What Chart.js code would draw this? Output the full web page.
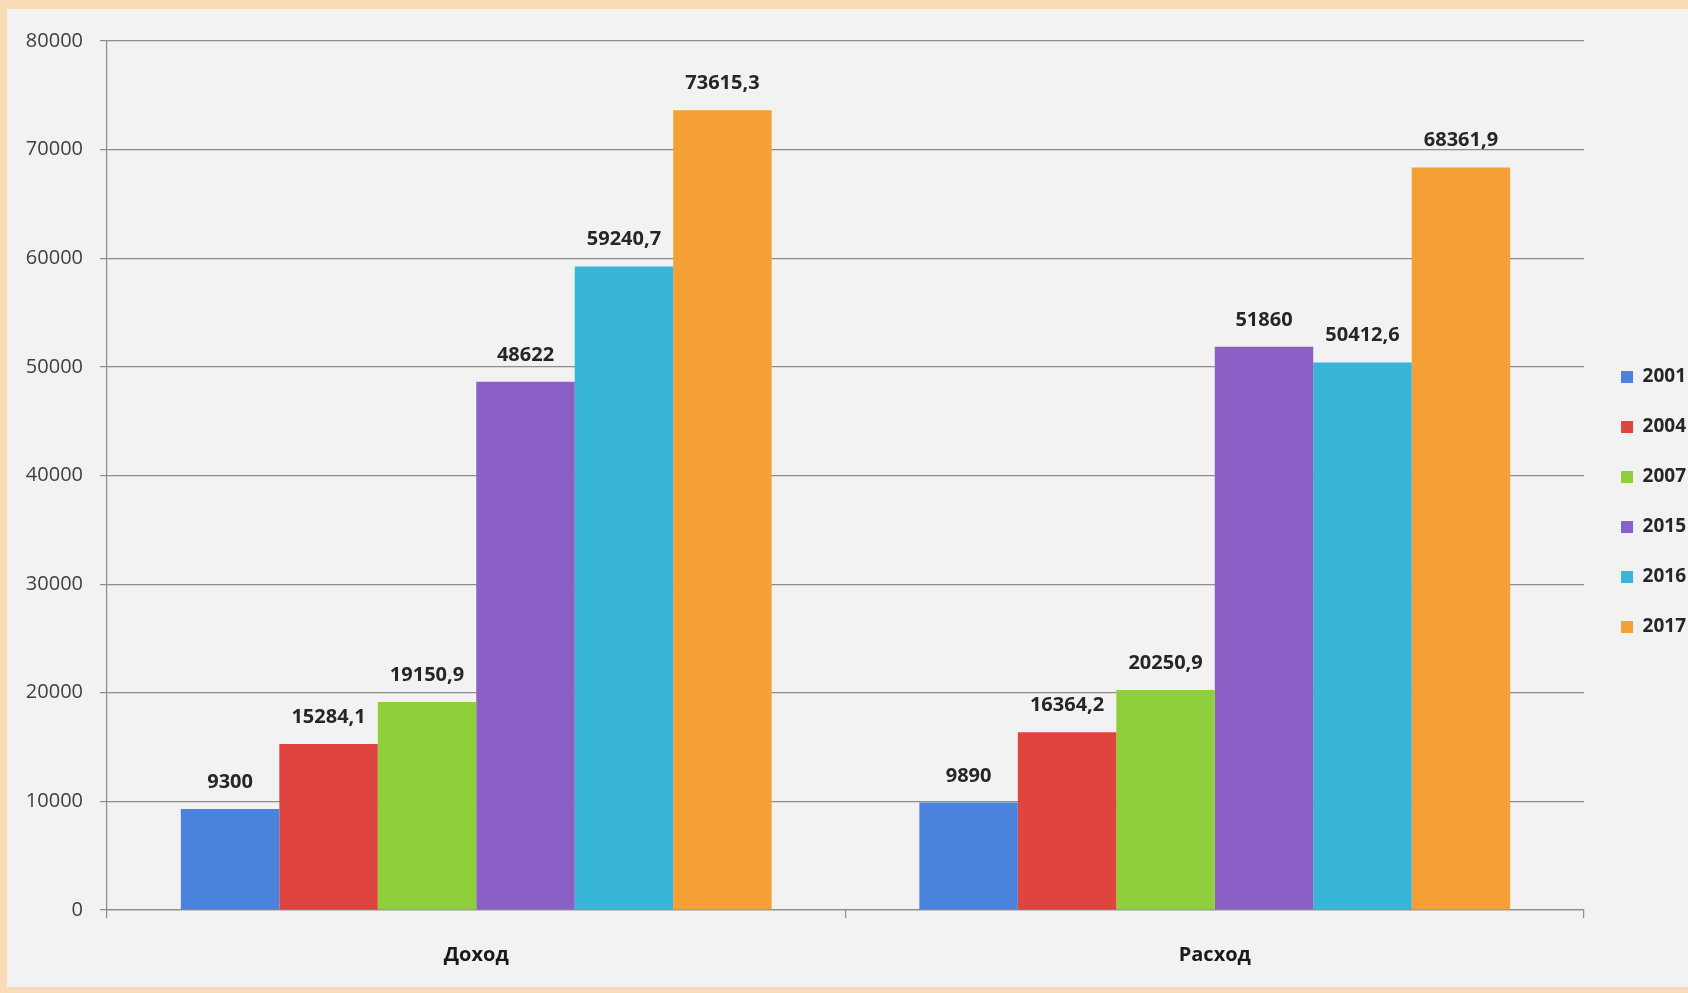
<!DOCTYPE html>
<html>
<head>
<meta charset="utf-8">
<script src="https://cdn.jsdelivr.net/npm/chart.js@4.4.1/dist/chart.umd.min.js"></script>
<style>
  html, body { margin: 0; padding: 0; overflow: hidden; }
  body { background: #f9dcb6; width: 1688px; height: 993px; position: relative; }
  .panel { position: absolute; left: 7px; top: 9px; width: 1683px; height: 978px; background: #f2f2f2; }
</style>
</head>
<body>
<div class="panel">
  <canvas id="budget"></canvas>
</div>
<script>
// categories and series
const categories = ['Доход', 'Расход'];
const years = ['2001', '2004', '2007', '2015', '2016', '2017'];
const income = [9300, 15284.1, 19150.9, 48622, 59240.7, 73615.3];
const expense = [9890, 16364.2, 20250.9, 51860, 50412.6, 68361.9];
const yearColors = ['#4a82dc', '#e0443e', '#90cf3c', '#8a5fc6', '#38b6da', '#f4a034'];
const yTicks = [0, 10000, 20000, 30000, 40000, 50000, 60000, 70000, 80000];

const FONT = "'Open Sans', sans-serif";
const gridColor = '#8c8c8c';

const fmt = v => String(v).replace('.', ',');

// value labels above every bar
const barLabels = {
  id: 'barLabels',
  afterDatasetsDraw(chart) {
    const ctx = chart.ctx;
    ctx.save();
    ctx.font = 'bold 20px ' + FONT;
    ctx.fillStyle = '#262626';
    ctx.textAlign = 'center';
    ctx.textBaseline = 'alphabetic';
    chart.data.datasets.forEach((ds, i) => {
      chart.getDatasetMeta(i).data.forEach((bar, j) => {
        ctx.fillText(fmt(ds.data[j]), bar.x, bar.y - 21);
      });
    });
    ctx.restore();
  }
};

// nudge the legend a bit right and up, like the original
const legendNudge = {
  id: 'legendNudge',
  afterLayout(chart) {
    const lg = chart.legend;
    if (!lg) return;
    lg.left += 6; lg.right += 6;
    lg.top -= 12; lg.bottom -= 12;
  }
};

new Chart(document.getElementById('budget'), {
  type: 'bar',
  data: {
    labels: categories,
    datasets: years.map((y, i) => ({
      label: y,
      data: [income[i], expense[i]],
      backgroundColor: yearColors[i],
      borderWidth: 0,
      categoryPercentage: 0.8,
      barPercentage: 1.0
    }))
  },
  options: {
    responsive: true,
    maintainAspectRatio: false,
    animation: false,
    devicePixelRatio: 1,
    layout: { padding: { top: 32, left: 0, right: 0, bottom: 0 } },
    plugins: {
      tooltip: { enabled: false },
      legend: {
        position: 'right',
        align: 'center',
        labels: {
          boxWidth: 12,
          boxHeight: 12,
          padding: 31,
          color: '#262626',
          font: { family: FONT, size: 19, weight: 'bold' }
        }
      }
    },
    scales: {
      x: {
        afterFit(scale) { scale.height = 77; },
        grid: { display: true, drawOnChartArea: false, drawTicks: true, tickLength: 8, color: gridColor, lineWidth: 1.2, offset: true },
        border: { color: gridColor, width: 1.2 },
        ticks: { color: '#1a1a1a', padding: 25, font: { family: FONT, size: 20, weight: 'bold' } }
      },
      y: {
        min: 0,
        max: 80000,
        afterFit(scale) { scale.width = 100; },
        afterBuildTicks(scale) { scale.ticks = yTicks.map(v => ({ value: v })); },
        grid: { color: gridColor, lineWidth: 1.2, tickLength: 7, drawTicks: true },
        border: { color: gridColor, width: 1.2 },
        ticks: { color: '#404040', padding: 17, font: { family: FONT, size: 20 }, callback: v => String(v) }
      }
    }
  },
  plugins: [barLabels, legendNudge]
});
</script>
</body>
</html>
